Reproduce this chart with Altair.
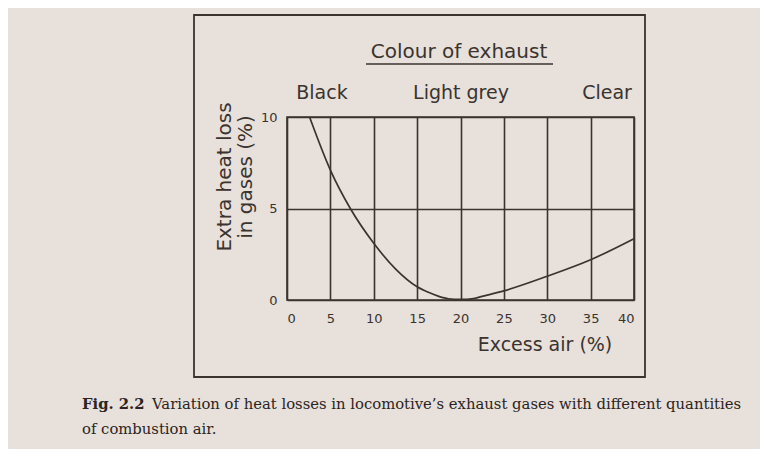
import altair as alt
import pandas as pd

# Data
excess_air = [2.6, 5, 7.3, 10, 12.5, 15, 16.3, 17.5, 18.6, 20, 21.5, 22.5, 25, 30, 35, 40]
heat_loss = [10, 7.1, 5, 3.1, 1.7, 0.72, 0.42, 0.2, 0.07, 0.03, 0.08, 0.2, 0.5, 1.3, 2.2, 3.35]
x_ticks = [0, 5, 10, 15, 20, 25, 30, 35, 40]
y_ticks = [0, 5, 10]
exhaust_labels = ["Black", "Light grey", "Clear"]

df = pd.DataFrame({"air": excess_air, "loss": heat_loss})

INK = "#3a332e"
PAPER = "#e7e0db"
HAND = "DejaVu Sans"
SERIF = "DejaVu Serif"
CAP = "#2b2421"

W, H = 347, 183

line = alt.Chart(df).mark_line(color=INK, strokeWidth=1.7, interpolate="monotone").encode(
    x=alt.X("air:Q", scale=alt.Scale(domain=[0, 40], nice=False),
            axis=alt.Axis(values=x_ticks, grid=True, gridColor=INK, gridWidth=1.6, gridOpacity=1,
                          domain=False, ticks=False, labelFontSize=13, labelColor=INK,
                          labelFont=HAND, labelPadding=12, title=None)),
    y=alt.Y("loss:Q", scale=alt.Scale(domain=[0, 10], nice=False),
            axis=alt.Axis(values=y_ticks, grid=True, gridColor=INK, gridWidth=1.6, gridOpacity=1,
                          domain=False, ticks=False, labelFontSize=13, labelColor=INK,
                          labelFont=HAND, labelAngle=0, labelAlign="right",
                          labelBaseline="middle", labelPadding=10, title=None)),
)


def txt(label, x, y, size=17, font=HAND, weight="normal", align="center", angle=0, color=INK):
    return alt.Chart(alt.Data(values=[{"t": label}])).mark_text(
        font=font, fontSize=size, fontWeight=weight, align=align, baseline="middle",
        angle=angle, color=color
    ).encode(x=alt.value(x), y=alt.value(y), text="t:N")


layers = [line]
# outer frame of the figure
layers.append(
    alt.Chart(alt.Data(values=[{}])).mark_rect(fill=None, stroke=INK, strokeWidth=1.8).encode(
        x=alt.value(-93), x2=alt.value(358), y=alt.value(-102), y2=alt.value(260))
)
# header
layers.append(txt("Colour of exhaust", 172, -65, size=20))
layers.append(
    alt.Chart(alt.Data(values=[{}])).mark_rule(color=INK, strokeWidth=1.6).encode(
        x=alt.value(79), x2=alt.value(266), y=alt.value(-53))
)
for lab, xpos in zip(exhaust_labels, [35, 174, 320]):
    layers.append(txt(lab, xpos, -24, size=19))
# axis titles
layers.append(txt("Extra heat loss", -62, 60, size=20, angle=270))
layers.append(txt("in gases (%)", -41, 60, size=20, angle=270))
layers.append(txt("Excess air  (%)", 258, 228, size=19))
# caption
layers.append(txt("Fig. 2.2", -205, 288, size=14.8, font=SERIF, weight="bold", align="left", color=CAP))
layers.append(txt("Variation of heat losses in locomotive\u2019s exhaust gases with different quantities",
                  -135, 288, size=14.8, font=SERIF, align="left", color=CAP))
layers.append(txt("of combustion air.", -205, 313, size=14.8, font=SERIF, align="left", color=CAP))

chart = alt.layer(*layers).properties(
    width=W, height=H,
    autosize=alt.AutoSizeParams(type="none"),
    padding={"left": 279, "top": 109, "right": 126, "bottom": 149},
    background=PAPER,
).configure_view(stroke=INK, strokeWidth=1.6)

chart.save("out.html", embed_options={"renderer": "svg", "actions": False})
